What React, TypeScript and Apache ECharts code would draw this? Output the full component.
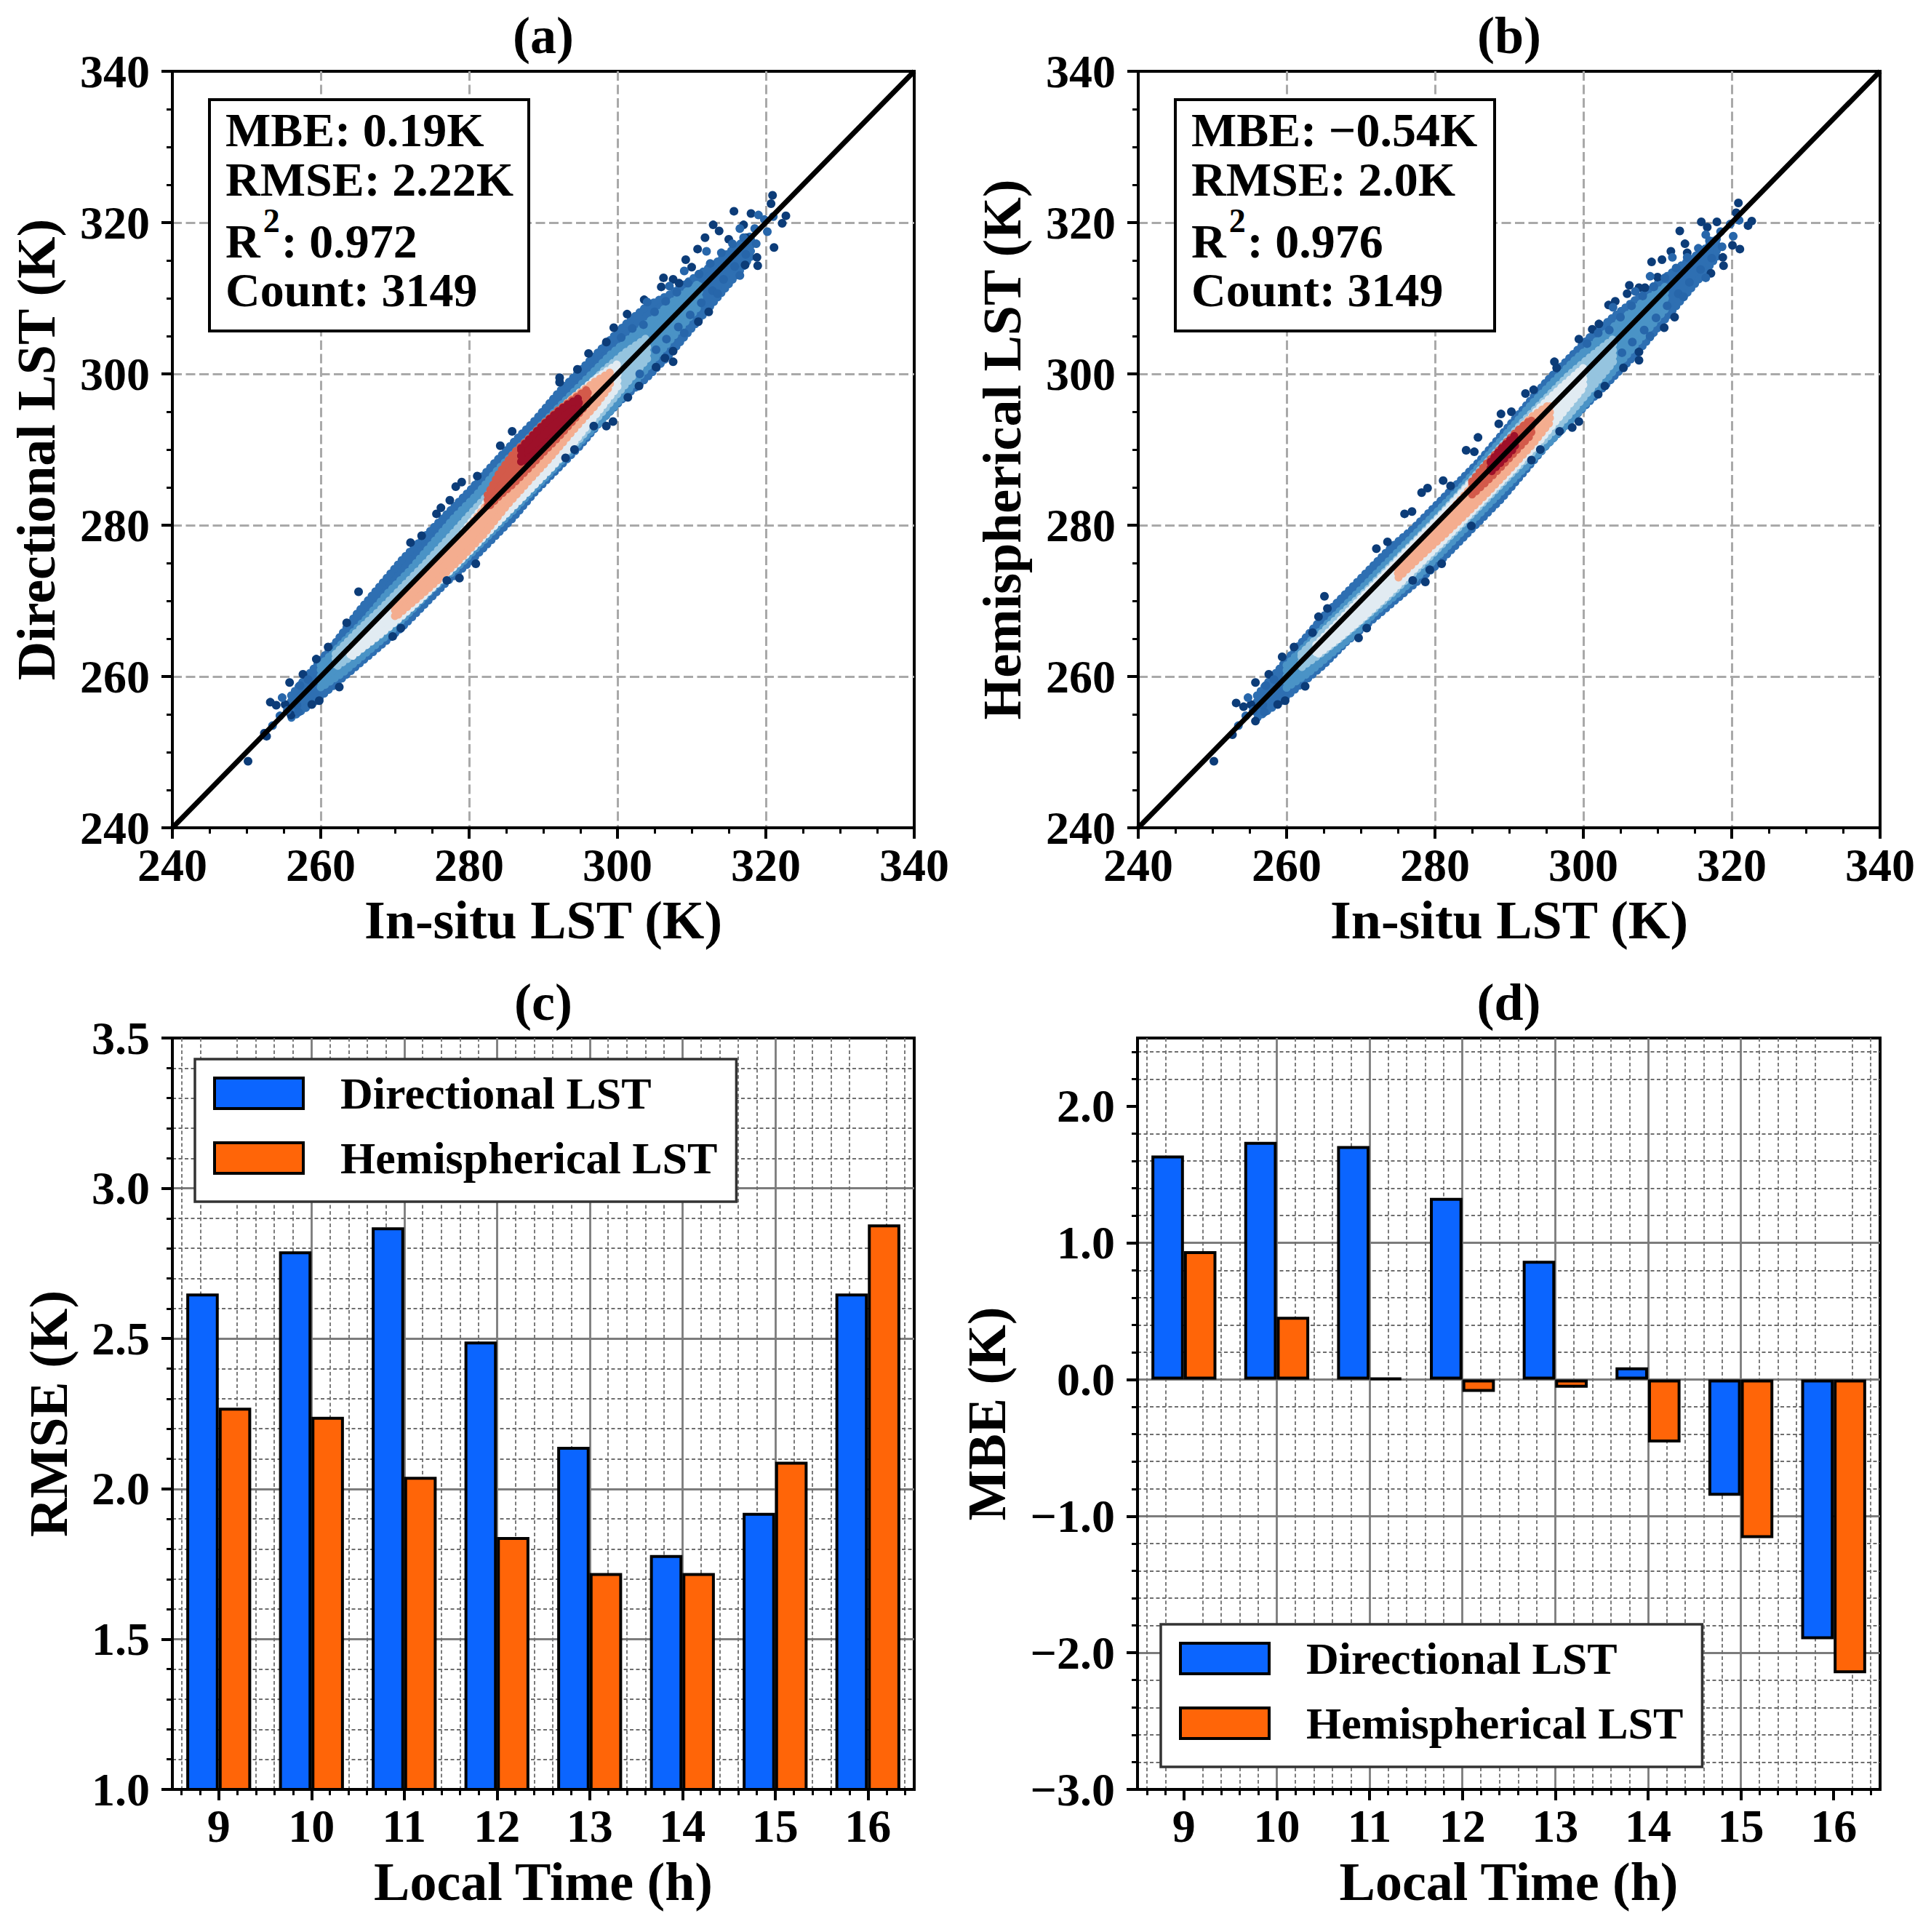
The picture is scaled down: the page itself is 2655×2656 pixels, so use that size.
import { useEffect, useRef } from 'react';
import * as echarts from 'echarts';

const FONT = '"Liberation Serif", "Times New Roman", serif';
const BLUE = '#0b65ff';
const ORANGE = '#ff6508';

// ---- panels (a) and (b): density bands, each row is [in-situ, lower, upper] ----
const lstTicks = [240, 260, 280, 300, 320, 340];

const aBody = [
  [256, 254.5, 257.5], [259, 256.5, 261], [262, 259, 264.5], [265, 261.5, 268.5],
  [268, 264, 272], [271, 266.5, 275.5], [274, 269.5, 278.5], [277, 272.5, 281.5],
  [280, 275, 284.5], [283, 278, 287.8], [286, 281, 291], [289, 284.5, 294],
  [292, 287.5, 297.5], [295, 290.5, 300.5], [298, 294, 303.5], [301, 297, 306.5],
  [304, 299.5, 309], [307, 302.5, 310.5], [310, 306, 312.5], [313, 309.5, 314.5],
  [316, 313, 316.8], [318, 315.5, 318.3],
];
const aMid = [
  [260, 258.5, 261.5], [263, 260.5, 264.5], [266, 263, 267.5], [269, 265.5, 271],
  [272, 268.5, 274], [275, 271.5, 277.5], [278, 274, 281], [281, 277, 284],
  [284, 280, 287.5], [287, 283, 290.5], [290, 286, 293.5], [293, 289, 296.5],
  [296, 292, 299.5], [299, 295, 302.5], [302, 298.5, 305], [305, 302, 307.5],
  [308, 305.5, 310], [311, 309, 312],
];
const aLight = [
  [262, 261.2, 263], [265, 263.3, 266], [268, 265.5, 268.8], [271, 268, 271.8],
  [274, 270.8, 274.8], [277, 273.6, 278], [280, 276.5, 281.3], [283, 279.5, 284.5],
  [286, 282.5, 288.2], [289, 285.5, 291.5], [292, 288.5, 294.5], [295, 291.5, 297.3],
  [298, 295, 300.3], [301, 298.5, 302.8], [304, 302, 304.8],
];
const aPale = [
  [264, 262.5, 263.8], [267, 264.8, 266.6], [270, 267.2, 269.6], [273, 269.8, 272.6],
  [276, 272.6, 275.6], [279, 275.5, 278.8], [282, 278.5, 282.6], [285, 281.5, 286.5],
  [288, 284.5, 290.5], [291, 287.5, 293.8], [294, 290.8, 296.8], [297, 294.5, 299.3],
  [300, 298.3, 301.3],
];
const aWarm = [
  [270, 267.8, 269.2], [273, 270.3, 272.3], [276, 272.9, 275.4], [279, 275.7, 278.6],
  [282, 278.8, 282.2], [285, 282.5, 286.8], [288, 285.8, 291.2], [291, 289, 294.3],
  [294, 292.5, 296.8], [297, 295.8, 299], [299, 298.4, 300.2],
];
const aRed = [
  [282.5, 282.3, 284], [284, 283.8, 286.8], [286, 285.5, 289.5], [288, 287.5, 291.4],
  [290, 289.6, 293.4], [292, 291.6, 295.2], [294, 293.8, 296.6], [296, 296.2, 298],
];
const aCore = [
  [287, 288.2, 290.2], [289, 289.6, 292.3], [291, 291.4, 294.2], [293, 293.3, 295.8],
  [294.8, 295.3, 296.8],
];
const aOutliers = [
  [250.2, 248.8], [252.7, 252.1], [252.4, 252.5], [253.2, 256.6], [254.0, 256.2], [255.2, 256.3],
  [255.8, 259.2], [256.0, 254.9], [257.6, 260.3], [258.8, 256.3], [259.4, 262.3], [259.8, 256.8],
  [262.5, 258.6], [261.0, 263.9], [263.5, 267.1], [265.1, 271.2], [269.7, 265.3], [270.8, 266.4],
  [272.1, 277.7], [273.6, 278.6], [275.6, 281.5], [276.2, 282.3], [277.0, 272.7], [277.4, 283.3],
  [278.2, 285.1], [278.7, 273.0], [279.0, 285.7], [280.9, 274.9], [281.1, 286.5], [284.2, 290.5],
  [285.8, 292.4], [292.2, 298.9], [292.2, 299.5], [293.0, 288.9], [294.2, 290.0], [294.6, 300.6],
  [296.1, 302.7], [296.8, 293.1], [298.5, 293.1], [298.5, 304.2], [299.4, 293.7], [299.5, 306.1],
  [301.3, 307.9], [301.4, 296.9], [302.9, 298.4], [303.6, 309.8], [305.2, 300.9], [305.9, 311.5],
  [306.2, 312.7], [306.4, 302.1], [307.5, 312.5], [307.5, 301.6], [307.5, 303.0], [308.3, 312.0],
  [309.2, 315.1], [310.0, 314.1], [310.8, 316.5], [310.9, 306.9], [311.8, 318.0], [312.3, 308.2],
  [312.9, 319.7], [313.7, 318.9], [315.0, 317.8], [315.7, 321.5], [317.0, 319.7], [317.2, 314.4],
  [317.3, 318.0], [318.0, 321.2], [318.8, 315.4], [318.9, 314.3], [320.7, 322.5], [320.9, 323.6],
  [321.1, 316.7], [322.2, 319.9], [322.7, 320.9],
];
const aEdgeDots = [
  [253.5, 253.5], [254.5, 254.8], [255.5, 255.5], [256.8, 256.2], [257.2, 258.8], [258.3, 259.6],
  [254.8, 257.2], [257.0, 255.3], [303.5, 306.5], [305.0, 308.2], [306.5, 309.6], [308.0, 310.8],
  [309.5, 312.0], [311.0, 313.2], [312.5, 314.6], [314.0, 316.0], [315.5, 317.2], [317.0, 318.0],
  [318.5, 319.2], [319.8, 320.4], [321.0, 320.8], [320.2, 318.8], [318.7, 317.2], [317.3, 315.8],
  [315.8, 314.2], [314.3, 312.5], [312.8, 311.0], [311.3, 309.4], [309.8, 307.8], [308.2, 306.2],
  [306.6, 304.6], [305.2, 303.2], [302.0, 306.0], [300.5, 304.8], [304.0, 309.5], [307.0, 311.6],
  [309.0, 313.6], [312.0, 316.2], [316.5, 319.2], [319.0, 321.0], [313.5, 310.6], [316.5, 313.0],
  [309.0, 305.4], [303.0, 300.0],
];

const bBody = [
  [256, 254.5, 257.5], [259, 256.5, 261], [262, 259, 264.5], [265, 261.5, 268],
  [268, 264.5, 271], [271, 267, 274], [274, 269.5, 277], [277, 272, 279.5],
  [280, 274.5, 282.5], [283, 277.5, 285.5], [286, 280.5, 288.5], [289, 283.5, 292],
  [292, 287, 295.5], [295, 290.5, 299], [298, 293.5, 302], [301, 296.5, 305],
  [304, 299.5, 307.5], [307, 302.5, 309.8], [310, 306, 312], [313, 309.5, 314.2],
  [316, 313, 316.2], [318, 315.5, 318],
];
const bMid = [
  [260, 258.5, 261.5], [263, 260.5, 264.5], [266, 263, 267.5], [269, 265.5, 270.5],
  [272, 268.5, 273.5], [275, 271, 276.5], [278, 273.5, 279.5], [281, 276.5, 282.5],
  [284, 279.5, 285.5], [287, 282.5, 289], [290, 285.5, 292.5], [293, 288.5, 296],
  [296, 291.5, 299], [299, 294.5, 302], [302, 298, 304.5], [305, 301.5, 307],
  [308, 305, 309.5], [311, 308.5, 311.5],
];
const bLight = [
  [262, 261.2, 263], [265, 263.3, 266], [268, 265.7, 268.8], [271, 268.2, 271.6],
  [274, 270.8, 274.6], [277, 273.6, 277.6], [280, 276.5, 280.6], [283, 279.5, 283.8],
  [286, 282.5, 287.2], [289, 285.5, 290.5], [292, 288.5, 293.8], [295, 291.5, 296.8],
  [298, 294.5, 299.8], [301, 298, 302.3], [304, 301.5, 304.6],
];
const bPale = [
  [264, 262.8, 264.2], [267, 265, 267.2], [270, 267.5, 270.3], [273, 270.2, 273.3],
  [276, 273, 276.4], [279, 275.9, 279.4], [282, 278.8, 282.5], [285, 281.8, 285.8],
  [288, 284.8, 289], [291, 287.8, 292.3], [294, 291, 295.4], [297, 294.6, 298.2],
  [300, 298.2, 300.8],
];
const bWarm = [
  [275, 273, 274.2], [278, 275.8, 277.4], [281, 278.5, 280.6], [284, 281.3, 284],
  [287, 284.2, 287.6], [290, 287.3, 291.2], [293, 290.5, 294.3], [295.5, 293.6, 296],
];
const bRed = [
  [285, 284, 285.8], [287, 285.8, 288.2], [289, 287.8, 290.3], [291, 289.9, 292.4],
  [293, 292, 294],
];
const bCore = [[287.5, 287, 288.4], [289, 288.4, 290.2], [290.8, 290.3, 291.9]];
const bOutliers = [
  [250.2, 248.8], [252.7, 252.3], [253.2, 256.5], [254.2, 256.0], [255.2, 256.3], [255.8, 259.2],
  [255.8, 254.1], [257.6, 260.3], [258.8, 256.3], [259.4, 262.6], [259.8, 256.8], [261.0, 263.9],
  [262.5, 258.7], [263.5, 265.8], [264.3, 267.9], [265.1, 270.6], [265.5, 269.0], [269.7, 265.1],
  [270.8, 266.4], [272.1, 276.9], [273.6, 277.8], [275.9, 281.5], [276.9, 281.8], [277.0, 272.7],
  [278.2, 284.3], [278.7, 272.5], [279.0, 284.9], [279.3, 274.1], [280.9, 274.9], [281.1, 285.9],
  [282.1, 285.2], [284.2, 289.9], [284.9, 279.9], [285.3, 289.7], [285.8, 291.6], [288.6, 293.4],
  [288.9, 294.7], [290.3, 295.0], [292.2, 297.4], [293.0, 288.6], [293.3, 297.9], [294.2, 290.0],
  [296.1, 301.6], [296.4, 300.8], [296.8, 292.4], [298.5, 292.9], [299.4, 293.7], [299.4, 304.6],
  [301.2, 305.9], [302.0, 297.3], [302.1, 306.6], [302.9, 298.4], [303.4, 309.1], [304.3, 309.6],
  [305.4, 300.8], [305.9, 310.6], [306.2, 311.7], [307.5, 311.4], [307.5, 301.8], [307.5, 302.9],
  [308.3, 311.4], [309.2, 314.8], [310.0, 312.8], [310.6, 315.1], [310.9, 306.1], [311.8, 316.2],
  [312.3, 307.5], [313.0, 318.9], [313.7, 317.2], [314.0, 316.0], [315.9, 320.1], [316.7, 319.4],
  [317.2, 313.3], [318.0, 320.1], [318.8, 315.4], [318.9, 314.3], [320.1, 317.0], [320.6, 321.3],
  [320.9, 322.6], [321.1, 316.5], [322.2, 319.6], [322.7, 320.2],
];
const bEdgeDots = [
  [253.5, 253.5], [254.5, 254.8], [255.5, 255.5], [256.8, 256.2], [257.2, 258.8], [258.3, 259.6],
  [254.8, 257.2], [257.0, 255.3], [303.5, 305.8], [305.0, 307.5], [306.5, 309.0], [308.0, 310.3],
  [309.5, 311.5], [311.0, 312.7], [312.5, 314.0], [314.0, 315.4], [315.5, 316.6], [317.0, 317.6],
  [318.5, 318.8], [319.8, 319.8], [321.0, 320.3], [320.2, 318.2], [318.7, 316.8], [317.3, 315.3],
  [315.8, 313.8], [314.3, 312.1], [312.8, 310.6], [311.3, 309.0], [309.8, 307.4], [308.2, 305.8],
  [306.6, 304.2], [305.2, 302.8], [302.0, 305.4], [300.5, 304.0], [304.0, 308.8], [307.0, 310.9],
  [309.0, 312.9], [312.0, 315.4], [316.5, 318.4], [313.5, 310.2], [316.5, 312.7], [309.0, 305.0],
];

const statsDirectional = ['MBE: 0.19K', 'RMSE: 2.22K', '0.972', 'Count: 3149'];
const statsHemispherical = ['MBE: \u22120.54K', 'RMSE: 2.0K', '0.976', 'Count: 3149'];

// ---- panels (c) and (d) ----
const hours = [9, 10, 11, 12, 13, 14, 15, 16];
const hourMinorTicks = [
  8.6, 8.8, 9.2, 9.4, 9.6, 9.8, 10.2, 10.4, 10.6, 10.8, 11.2, 11.4, 11.6, 11.8, 12.2, 12.4,
  12.6, 12.8, 13.2, 13.4, 13.6, 13.8, 14.2, 14.4, 14.6, 14.8, 15.2, 15.4, 15.6, 15.8, 16.2, 16.4,
];
const rmseDirectional = [2.65, 2.79, 2.87, 2.49, 2.14, 1.78, 1.92, 2.65];
const rmseHemispherical = [2.27, 2.24, 2.04, 1.84, 1.72, 1.72, 2.09, 2.88];
const mbeDirectional = [1.64, 1.74, 1.71, 1.33, 0.87, 0.09, -0.85, -1.9];
const mbeHemispherical = [0.94, 0.46, 0.01, -0.09, -0.06, -0.46, -1.16, -2.15];
const rmseTicks = [1.0, 1.5, 2.0, 2.5, 3.0, 3.5];
const rmseMinorTicks = [
  1.1, 1.2, 1.3, 1.4, 1.6, 1.7, 1.8, 1.9, 2.1, 2.2, 2.3, 2.4, 2.6, 2.7, 2.8, 2.9, 3.1, 3.2, 3.3, 3.4,
];
const mbeTicks = [-3, -2, -1, 0, 1, 2];
const mbeMinorTicks = [
  -2.8, -2.6, -2.4, -2.2, -1.8, -1.6, -1.4, -1.2, -0.8, -0.6, -0.4, -0.2,
  0.2, 0.4, 0.6, 0.8, 1.2, 1.4, 1.6, 1.8, 2.2, 2.4,
];

const GRID_A = { left: 237, top: 98, width: 1020, height: 1040 };
const GRID_B = { left: 1565, top: 98, width: 1020, height: 1040 };
const GRID_C = { left: 237, top: 1427, width: 1020, height: 1033 };
const GRID_D = { left: 1564, top: 1427, width: 1021, height: 1033 };

const bold = (size: number) => ({ fontFamily: FONT, fontWeight: 'bold' as const, fontSize: size, color: '#000' });
const fmt1 = (v: number) => v.toFixed(1).replace('-', '\u2212');

function lstAxis(gridIndex: number, dim: 'x' | 'y', name: string) {
  return {
    type: 'value',
    gridIndex,
    min: lstTicks[0],
    max: lstTicks[lstTicks.length - 1],
    interval: 20,
    name,
    nameLocation: 'middle',
    nameGap: dim === 'x' ? 90 : 150,
    nameTextStyle: bold(74),
    axisLine: { show: true, onZero: false, lineStyle: { color: '#000', width: 4 } },
    axisTick: { show: true, length: 15, lineStyle: { color: '#000', width: 4 } },
    minorTick: { show: true, splitNumber: 4, length: 8, lineStyle: { color: '#000', width: 3 } },
    axisLabel: { ...bold(64), margin: dim === 'x' ? 19 : 31 },
    splitLine: {
      show: true,
      showMinLine: false,
      showMaxLine: false,
      lineStyle: { color: '#a9a9a9', width: 3, type: [13, 5.5] },
    },
  };
}

function majorAxis(gridIndex: number, dim: 'x' | 'y', min: number, max: number, ticks: number[], name: string, gap: number) {
  return {
    type: 'value',
    gridIndex,
    min,
    max,
    position: dim === 'x' ? 'bottom' : 'left',
    name,
    nameLocation: 'middle',
    nameGap: gap,
    nameTextStyle: bold(74),
    axisLine: { show: true, onZero: false, lineStyle: { color: '#000', width: 4 } },
    axisTick: { show: true, customValues: ticks, length: 15, lineStyle: { color: '#000', width: 4 } },
    axisLabel: {
      ...bold(64),
      customValues: ticks,
      margin: dim === 'x' ? 18 : 31,
      formatter: dim === 'x' ? (v: number) => String(v) : fmt1,
    },
    splitLine: {
      show: true,
      showMinLine: false,
      showMaxLine: false,
      lineStyle: { color: '#7c7c7c', width: 2.8 },
    },
  };
}

function minorAxis(gridIndex: number, dim: 'x' | 'y', min: number, max: number, ticks: number[]) {
  return {
    type: 'value',
    gridIndex,
    min,
    max,
    position: dim === 'x' ? 'bottom' : 'left',
    axisLine: { show: false, onZero: false },
    axisTick: { show: true, customValues: ticks, length: 8, lineStyle: { color: '#000', width: 3 } },
    axisLabel: { show: false },
    splitLine: { show: true, lineStyle: { color: '#6e6e6e', width: 1.8, type: [5, 3.5] } },
  };
}

// one filled band with a beaded outline, so its edge reads as a row of dots
function band(layer: number[][], color: string, axis: number) {
  return {
    type: 'custom',
    xAxisIndex: axis,
    yAxisIndex: axis,
    silent: true,
    data: layer,
    renderItem: (params: any, api: any) => {
      if (params.dataIndex !== 0) return null;
      const upper = layer.map((r) => api.coord([r[0], r[2]]));
      const lower = layer.slice().reverse().map((r) => api.coord([r[0], r[1]]));
      return {
        type: 'polygon',
        shape: { points: upper.concat(lower) },
        style: {
          fill: color,
          stroke: color,
          lineWidth: 11,
          lineCap: 'round',
          lineJoin: 'round',
          lineDash: [0.01, 8],
        },
      };
    },
  };
}

function dots(data: number[][], color: string, axis: number) {
  return {
    type: 'scatter',
    xAxisIndex: axis,
    yAxisIndex: axis,
    silent: true,
    symbolSize: 12,
    itemStyle: { color, opacity: 1 },
    data,
  };
}

function densityPanel(axis: number, layers: number[][][], outliers: number[][], edge: number[][]) {
  const colors = ['#2e6fb2', '#4a93c6', '#95c4df', '#e1ebf2', '#f4ad8f', '#d35a4a', '#9e1029'];
  return [
    dots(outliers, '#0c3c78', axis),
    dots(edge, '#2766aa', axis),
    ...layers.map((l, i) => band(l, colors[i], axis)),
    {
      type: 'line',
      xAxisIndex: axis,
      yAxisIndex: axis,
      silent: true,
      symbol: 'none',
      lineStyle: { color: '#000', width: 7 },
      data: [
        [lstTicks[0], lstTicks[0]],
        [lstTicks[lstTicks.length - 1], lstTicks[lstTicks.length - 1]],
      ],
    },
  ];
}

function barPair(axis: number, dir: number[], hemi: number[]) {
  const base = { type: 'bar', xAxisIndex: axis, yAxisIndex: axis, barWidth: '35%', barGap: '0%' };
  return [
    {
      ...base,
      name: 'Directional LST',
      itemStyle: { color: BLUE, borderColor: '#000', borderWidth: 4 },
      data: hours.map((h, i) => [h, dir[i]]),
    },
    {
      ...base,
      name: 'Hemispherical LST',
      itemStyle: { color: ORANGE, borderColor: '#000', borderWidth: 4 },
      data: hours.map((h, i) => [h, hemi[i]]),
    },
  ];
}

function legend(left: number, top: number) {
  return {
    data: ['Directional LST', 'Hemispherical LST'],
    left,
    top,
    orient: 'vertical',
    icon: 'rect',
    itemWidth: 122,
    itemHeight: 42,
    itemGap: 27,
    padding: [16, 26, 29, 25],
    backgroundColor: '#fff',
    borderColor: '#333',
    borderWidth: 3.5,
    borderRadius: 0,
    selectedMode: false,
    itemStyle: { borderColor: '#000', borderWidth: 4 },
    textStyle: { ...bold(62), lineHeight: 62, padding: [0, 0, 0, 46] },
  };
}

function statsBox(grid: typeof GRID_A, stats: string[]) {
  return [
    {
      type: 'rect',
      z: 100,
      shape: { x: grid.left + 51, y: 137, width: 439, height: 318 },
      style: { fill: '#fff', stroke: '#000', lineWidth: 4 },
    },
    {
      type: 'text',
      z: 101,
      x: grid.left + 73,
      y: 144.5,
      style: {
        text: `{l|${stats[0]}}\n{l|${stats[1]}}\n{r|R}{s|2}{r|: ${stats[2]}}\n{l|${stats[3]}}`,
        fontFamily: FONT,
        fontWeight: 'bold',
        fontSize: 66,
        fill: '#000',
        align: 'left',
        verticalAlign: 'top',
        rich: {
          l: { fontFamily: FONT, fontWeight: 'bold', fontSize: 66, lineHeight: 68, fill: '#000' },
          r: { fontFamily: FONT, fontWeight: 'bold', fontSize: 66, lineHeight: 84, verticalAlign: 'bottom', fill: '#000' },
          s: { fontFamily: FONT, fontWeight: 'bold', fontSize: 46, verticalAlign: 'top', padding: [0, 2, 0, 4], fill: '#000' },
        },
      },
    },
  ];
}

function panelTitle(grid: typeof GRID_A, text: string) {
  return {
    type: 'text',
    z: 100,
    x: grid.left + grid.width / 2,
    y: grid.top - 49,
    style: { text, fontFamily: FONT, fontWeight: 'bold', fontSize: 72, fill: '#000', align: 'center', verticalAlign: 'middle' },
  };
}

function buildOption() {
  const gridStyle = { show: true, borderColor: '#000', borderWidth: 4, backgroundColor: 'transparent', containLabel: false };
  return {
    animation: false,
    backgroundColor: '#fff',
    grid: [GRID_A, GRID_B, GRID_C, GRID_D].map((g) => ({ ...gridStyle, ...g })),
    xAxis: [
      lstAxis(0, 'x', 'In-situ LST (K)'),
      lstAxis(1, 'x', 'In-situ LST (K)'),
      majorAxis(2, 'x', 8.5, 16.5, hours, 'Local Time (h)', 90),
      minorAxis(2, 'x', 8.5, 16.5, hourMinorTicks),
      majorAxis(3, 'x', 8.5, 16.5, hours, 'Local Time (h)', 90),
      minorAxis(3, 'x', 8.5, 16.5, hourMinorTicks),
    ],
    yAxis: [
      lstAxis(0, 'y', 'Directional LST (K)'),
      lstAxis(1, 'y', 'Hemispherical LST (K)'),
      majorAxis(2, 'y', 1.0, 3.5, rmseTicks, 'RMSE (K)', 133),
      minorAxis(2, 'y', 1.0, 3.5, rmseMinorTicks),
      majorAxis(3, 'y', -3, 2.5, mbeTicks, 'MBE (K)', 170),
      minorAxis(3, 'y', -3, 2.5, mbeMinorTicks),
    ],
    legend: [legend(268, 1456), legend(1596, 2233)],
    series: [
      ...densityPanel(0, [aBody, aMid, aLight, aPale, aWarm, aRed, aCore], aOutliers, aEdgeDots),
      ...densityPanel(1, [bBody, bMid, bLight, bPale, bWarm, bRed, bCore], bOutliers, bEdgeDots),
      ...barPair(2, rmseDirectional, rmseHemispherical),
      ...barPair(4, mbeDirectional, mbeHemispherical),
    ],
    graphic: [
      panelTitle(GRID_A, '(a)'),
      panelTitle(GRID_B, '(b)'),
      panelTitle(GRID_C, '(c)'),
      panelTitle(GRID_D, '(d)'),
      ...statsBox(GRID_A, statsDirectional),
      ...statsBox(GRID_B, statsHemispherical),
    ],
  };
}

export default function App() {
  const ref = useRef<HTMLDivElement | null>(null);

  useEffect(() => {
    const el = ref.current;
    if (!el) return;
    const chart = echarts.init(el, undefined, { renderer: 'svg' });
    chart.setOption(buildOption() as any);
    return () => {
      chart.dispose();
    };
  }, []);

  return (
    <div
      ref={ref}
      style={{ position: 'absolute', left: 0, top: 0, width: 2655, height: 2656, background: '#fff' }}
    />
  );
}
